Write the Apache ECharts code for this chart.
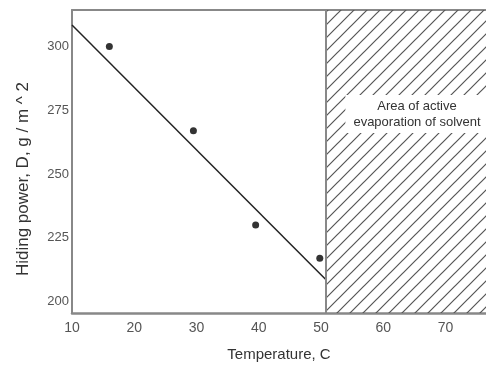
<!DOCTYPE html>
<html>
<head>
<meta charset="utf-8">
<script src="https://cdn.jsdelivr.net/npm/echarts@6/dist/echarts.min.js"></script>
<style>html,body{margin:0;padding:0;background:#fff}#c{width:486px;height:365px}</style>
</head>
<body>
<div id="c"></div>
<script>
// Measured points
const tempC = [16, 29.5, 39.5, 49.8];
const hidingPower = [300, 267, 230, 217];
// Fitted trend line end points
const fitTemp = [10, 50.8];
const fitPower = [308.4, 208.5];
// Ticks
const xTicks = [10, 20, 30, 40, 50, 60, 70];
const yTicks = [200, 225, 250, 275, 300];
// Evaporation region start temperature
const evapStart = 50.8;
const evapLabel = 'Area of active\nevaporation of solvent';

function hatch() {
  const s = 13;
  const cv = document.createElement('canvas');
  cv.width = s; cv.height = s;
  const g = cv.getContext('2d');
  g.strokeStyle = '#555';
  g.lineWidth = 1.2;
  g.beginPath();
  g.moveTo(-2, s + 2); g.lineTo(s + 2, -2);
  g.moveTo(-2, 2); g.lineTo(2, -2);
  g.moveTo(s - 2, s + 2); g.lineTo(s + 2, s - 2);
  g.stroke();
  return cv;
}

const chart = echarts.init(document.getElementById('c'), null, {renderer: 'canvas'});
const axisCol = '#888';
const font = 'Liberation Sans, Arial, sans-serif';
chart.setOption({
  animation: false,
  grid: {left: 72, right: 0, top: 10, bottom: 52, outerBoundsMode: 'none', containLabel: false},
  xAxis: [{
    type: 'value', min: 10, max: 76.5, interval: 10,
    axisLine: {show: true, lineStyle: {color: axisCol, width: 2.5}},
    axisTick: {show: false},
    splitLine: {show: false},
    axisLabel: {customValues: xTicks, color: '#555', fontSize: 14, fontFamily: font, margin: 8},
    name: 'Temperature, C', nameLocation: 'middle', nameGap: 34,
    nameTextStyle: {color: '#333', fontSize: 15, fontFamily: font}
  }, {
    type: 'value', position: 'top', min: 10, max: 76.5,
    axisLine: {show: true, lineStyle: {color: axisCol, width: 2}},
    axisTick: {show: false}, axisLabel: {show: false}, splitLine: {show: false}
  }],
  yAxis: {
    type: 'value', min: 195.5, max: 314.3,
    axisLine: {show: true, lineStyle: {color: axisCol, width: 2}},
    axisTick: {show: false},
    splitLine: {show: false},
    axisLabel: {customValues: yTicks, color: '#555', fontSize: 13, fontFamily: font, margin: 3}
  },
  series: [{
    type: 'line',
    data: fitTemp.map((t, i) => [t, fitPower[i]]),
    symbol: 'none',
    lineStyle: {color: '#222', width: 1.5},
    markArea: {
      silent: true,
      itemStyle: {color: {image: hatch(), repeat: 'repeat'}},
      data: [[{xAxis: evapStart, yAxis: 195.5}, {xAxis: 76.5, yAxis: 314.3}]]
    },
    markLine: {
      silent: true, symbol: 'none', label: {show: false},
      lineStyle: {color: axisCol, width: 2, type: 'solid'},
      data: [{xAxis: evapStart}]
    },
    z: 3
  }, {
    type: 'scatter',
    data: tempC.map((t, i) => [t, hidingPower[i]]),
    symbol: 'circle', symbolSize: 7,
    itemStyle: {color: '#000'},
    z: 4
  }],
  graphic: [{
    type: 'text', left: 15, top: 82,
    rotation: Math.PI / 2,
    style: {text: 'Hiding power, D, g / m ^ 2', fill: '#333', fontSize: 17, fontFamily: font}
  }, {
    type: 'text', x: 417, y: 114, z: 10,
    style: {
      text: evapLabel, fill: '#333', fontSize: 13, fontFamily: font, lineHeight: 16,
      align: 'center', verticalAlign: 'middle',
      backgroundColor: '#fff', padding: [3, 8]
    }
  }]
});
</script>
</body>
</html>
